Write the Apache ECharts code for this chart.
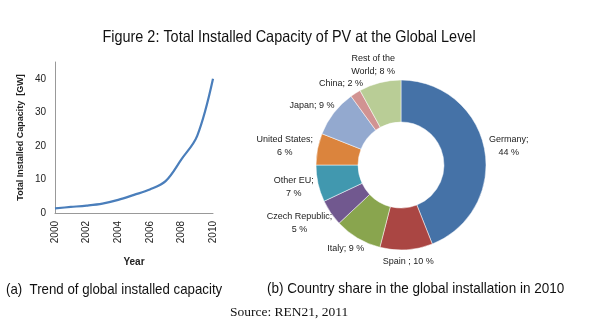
<!DOCTYPE html>
<html><head><meta charset="utf-8">
<script src="https://cdn.jsdelivr.net/npm/echarts@6/dist/echarts.min.js"></script>
<style>html,body{margin:0;padding:0;background:#fff}#c{width:600px;height:330px}</style>
</head><body><div id="c"></div>
<script>
const years = [2000,2001,2002,2003,2004,2005,2006,2007,2008,2009,2010];
const capacity = [1.4,1.8,2.2,2.8,3.9,5.4,7.0,9.5,16,23,40];
const countries = ['Germany','Spain ','Italy','Czech Republic','Other EU','United States','Japan','China','Rest of the World'];
const shares = [44,10,9,5,7,6,9,2,8];
const labelTexts = ['Germany;\n44 %','Spain ; 10 %','Italy; 9 %','Czech Republic;\n5 %','Other EU;\n7 %','United States;\n6 %','Japan; 9 %','China; 2 %','Rest of the\nWorld; 8 %'];
const colors = ['#4572A7','#AA4643','#89A54E','#71588F','#4198AF','#DB843D','#93A9CF','#D19392','#B9CD96'];

const chart = echarts.init(document.getElementById('c'), null, {renderer:'canvas'});
const sans = '"Liberation Sans", Arial, sans-serif';
chart.setOption({
  animation:false,
  graphic:[
    {type:'text', x:289, y:37, scaleX:0.875,
     style:{text:'Figure 2: Total Installed Capacity of PV at the Global Level', fontFamily:sans, fontSize:16.5, fill:'#111', align:'center', verticalAlign:'middle'}},
    {type:'text', x:6, y:290, scaleX:0.884,
     style:{text:'(a)  Trend of global installed capacity', fontFamily:sans, fontSize:15, fill:'#111', align:'left', verticalAlign:'middle'}},
    {type:'text', x:267, y:289, scaleX:0.90,
     style:{text:'(b) Country share in the global installation in 2010', fontFamily:sans, fontSize:15, fill:'#111', align:'left', verticalAlign:'middle'}},
    {type:'text', x:230, y:312,
     style:{text:'Source: REN21, 2011', fontFamily:'"Liberation Serif", "Times New Roman", serif', fontSize:13.5, fill:'#111', align:'left', verticalAlign:'middle'}}
  ],
  grid:{left:55, right:387, top:62, bottom:117},
  xAxis:{type:'value', min:2000, max:2010, interval:2,
    name:'Year', nameLocation:'middle', nameGap:44,
    nameTextStyle:{fontFamily:sans, fontSize:10, fontWeight:'bold', color:'#222'},
    axisLine:{lineStyle:{color:'#999'}}, axisTick:{show:false}, splitLine:{show:false},
    axisLabel:{rotate:90, fontFamily:sans, fontSize:10, color:'#222', margin:8, formatter:v=>String(v)}},
  yAxis:{type:'value', min:0, max:45, interval:10,
    name:'Total Installed Capacity  [GW]', nameLocation:'middle', nameGap:30,
    nameTextStyle:{fontFamily:sans, fontSize:9, fontWeight:'bold', color:'#222'},
    axisLine:{show:true, lineStyle:{color:'#999'}}, axisTick:{show:false}, splitLine:{show:false},
    axisLabel:{fontFamily:sans, fontSize:10, color:'#222', margin:9, showMaxLabel:false}},
  series:[
    {type:'line', data: years.map((y,i)=>[y, capacity[i]]), smooth:0.35, showSymbol:false,
     lineStyle:{color:'#4a7ebb', width:2.2}},
    {type:'pie', center:[401,165], radius:[43,85], startAngle:90, clockwise:true,
     avoidLabelOverlap:false,
     itemStyle:{borderColor:'#fff', borderWidth:0.5},
     label:{show:true, position:'outside', fontFamily:sans, fontSize:9, color:'#222', lineHeight:13,
       formatter:p=>labelTexts[p.dataIndex]},
     labelLine:{show:true, length:10, length2:0, lineStyle:{color:'rgba(0,0,0,0)', width:0}},
     labelLayout:p=>{
       const pts=p.labelLinePoints; if(!pts) return {};
       const dx=pts[1][0]-pts[0][0], dy=pts[1][1]-pts[0][1], L=Math.hypot(dx,dy)||1;
       const ux=dx/L, uy=dy/L, g=5, w=p.labelRect.width, h=p.labelRect.height;
       return {x:pts[0][0]+ux*g+ux*w/2, y:pts[0][1]+uy*g+uy*h/2, align:'center', verticalAlign:'middle'};
     },
     data: countries.map((c,i)=>({name:c, value:shares[i], itemStyle:{color:colors[i]}}))
    }
  ]
});
</script></body></html>
